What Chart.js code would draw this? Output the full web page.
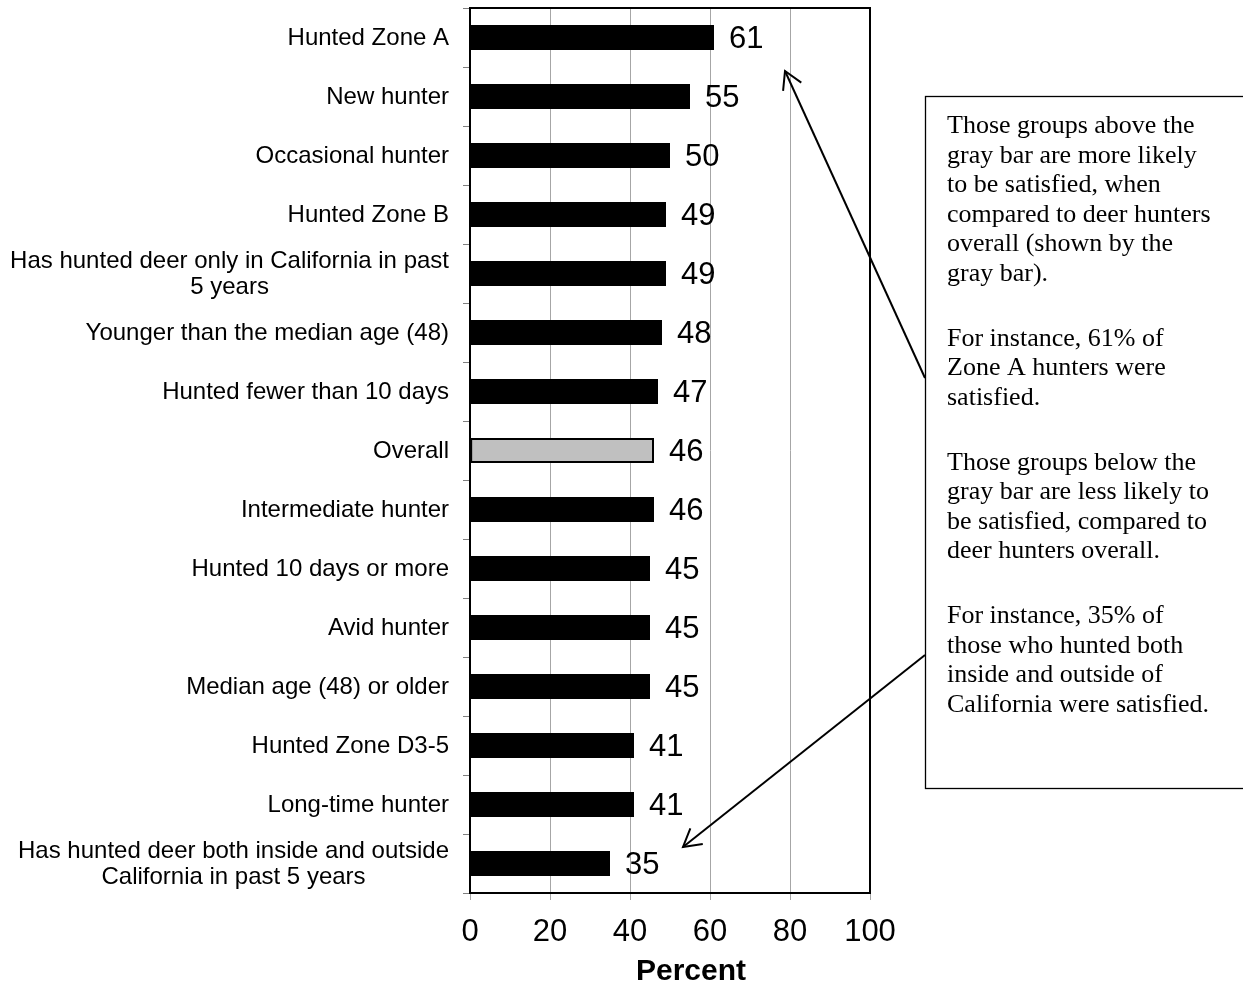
<!DOCTYPE html>
<html>
<head>
<meta charset="utf-8">
<script src="https://cdn.jsdelivr.net/npm/chart.js@4"></script>
<style>
html,body{margin:0;padding:0;background:#fff;}
#wrap{position:relative;width:1243px;height:986px;}
</style>
</head>
<body>
<div id="wrap"><canvas id="c" width="1243" height="986"></canvas></div>
<script>
const categories = [
  ["Hunted Zone A"],
  ["New hunter"],
  ["Occasional hunter"],
  ["Hunted Zone B"],
  ["Has hunted deer only in California in past", "5 years"],
  ["Younger than the median age (48)"],
  ["Hunted fewer than 10 days"],
  ["Overall"],
  ["Intermediate hunter"],
  ["Hunted 10 days or more"],
  ["Avid hunter"],
  ["Median age (48) or older"],
  ["Hunted Zone D3-5"],
  ["Long-time hunter"],
  ["Has hunted deer both inside and outside", "California in past 5 years"]
];
const values = [61, 55, 50, 49, 49, 48, 47, 46, 46, 45, 45, 45, 41, 41, 35];
const highlightCategory = "Overall";
const xTicks = [0, 20, 40, 60, 80, 100];
const axisTitle = "Percent";
const noteParagraphs = [
  ["Those groups above the", "gray bar are more likely", "to be satisfied, when", "compared to deer hunters", "overall (shown by the", "gray bar)."],
  ["For instance, 61% of", "Zone A hunters were", "satisfied."],
  ["Those groups below the", "gray bar are less likely to", "be satisfied, compared to", "deer hunters overall."],
  ["For instance, 35% of", "those who hunted both", "inside and outside of", "California were satisfied."]
];

const isHighlight = categories.map(c => c.join(" ") === highlightCategory);
const barColors = isHighlight.map(h => h ? "#c0c0c0" : "#000000");
const barBorders = isHighlight.map(h => h ? 2 : 0);

const SANS = '"Liberation Sans", Arial, sans-serif';
const SERIF = '"Liberation Serif", "Times New Roman", serif';

function arrow(ctx, x1, y1, x2, y2) {
  ctx.beginPath();
  ctx.moveTo(x1, y1);
  ctx.lineTo(x2, y2);
  ctx.stroke();
  const a = Math.atan2(y1 - y2, x1 - x2);
  const L = 20, s = Math.PI / 6;
  ctx.beginPath();
  ctx.moveTo(x2 + L * Math.cos(a - s), y2 + L * Math.sin(a - s));
  ctx.lineTo(x2, y2);
  ctx.lineTo(x2 + L * Math.cos(a + s), y2 + L * Math.sin(a + s));
  ctx.stroke();
}

const overlay = {
  id: "overlay",
  afterDatasetsDraw(chart) {
    const ctx = chart.ctx;
    const area = chart.chartArea;
    const ys = chart.scales.y;
    ctx.save();
    // plot border
    ctx.strokeStyle = "#000";
    ctx.lineWidth = 2;
    ctx.strokeRect(area.left, area.top, area.right - area.left, area.bottom - area.top);

    // category labels
    ctx.fillStyle = "#000";
    ctx.font = "24px " + SANS;
    ctx.textBaseline = "middle";
    ctx.textAlign = "center";
    const rightEdge = area.left - 21;
    const lh = 26;
    categories.forEach((lines, i) => {
      const cy = ys.getPixelForValue(i);
      const w = Math.max(...lines.map(l => ctx.measureText(l).width));
      const cx = rightEdge - w / 2;
      const y0 = cy - (lines.length - 1) * lh / 2;
      lines.forEach((l, k) => ctx.fillText(l, cx, y0 + k * lh + 1));
    });

    // data labels
    ctx.font = "31px " + SANS;
    ctx.textAlign = "left";
    const meta = chart.getDatasetMeta(0);
    meta.data.forEach((bar, i) => {
      ctx.fillText(String(values[i]), bar.x + 15, bar.y + 2);
    });

    // axis title
    ctx.font = "bold 30px " + SANS;
    ctx.textAlign = "center";
    ctx.textBaseline = "alphabetic";
    ctx.fillText(axisTitle, 691, 980);

    // arrows
    ctx.strokeStyle = "#000";
    ctx.lineWidth = 2;
    arrow(ctx, 925, 378, 785, 71);
    arrow(ctx, 925, 655, 683, 847);

    // note box
    ctx.fillStyle = "#fff";
    ctx.fillRect(925.5, 96.5, 330, 692);
    ctx.lineWidth = 1.3;
    ctx.strokeRect(925.5, 96.5, 330, 692);
    ctx.fillStyle = "#000";
    ctx.font = "26px " + SERIF;
    ctx.textAlign = "left";
    ctx.textBaseline = "alphabetic";
    let y = 133;
    noteParagraphs.forEach((p, pi) => {
      if (pi > 0) y += 65;
      p.forEach((line, li) => {
        if (li > 0) y += 29.5;
        ctx.fillText(line, 947, y);
      });
    });
    ctx.restore();
  }
};

new Chart(document.getElementById("c"), {
  type: "bar",
  data: {
    labels: categories,
    datasets: [{
      data: values,
      backgroundColor: barColors,
      borderColor: "#000",
      borderWidth: barBorders,
      borderSkipped: false,
      categoryPercentage: 1.0,
      barPercentage: 0.42
    }]
  },
  options: {
    indexAxis: "y",
    responsive: false,
    animation: false,
    events: [],
    layout: { padding: { left: 0, top: 8, right: 373, bottom: 0 } },
    plugins: { legend: { display: false }, tooltip: { enabled: false }, title: { display: false } },
    scales: {
      x: {
        min: 0, max: 100,
        afterBuildTicks(scale) { scale.ticks = xTicks.map(v => ({ value: v })); },
        afterFit(scale) { scale.height = 93; },
        border: { display: false },
        grid: { color: "#a6a6a6", lineWidth: 1, tickLength: 7, tickColor: "#a6a6a6" },
        ticks: { color: "#000", font: { family: SANS, size: 31 }, padding: 14, maxRotation: 0 }
      },
      y: {
        offset: true,
        afterFit(scale) { scale.width = 470; },
        border: { display: false },
        grid: { offset: true, drawOnChartArea: false, drawTicks: true, tickLength: 7, tickColor: "#7f7f7f", lineWidth: 1 },
        ticks: { display: false }
      }
    }
  },
  plugins: [overlay]
});
</script>
</body>
</html>
